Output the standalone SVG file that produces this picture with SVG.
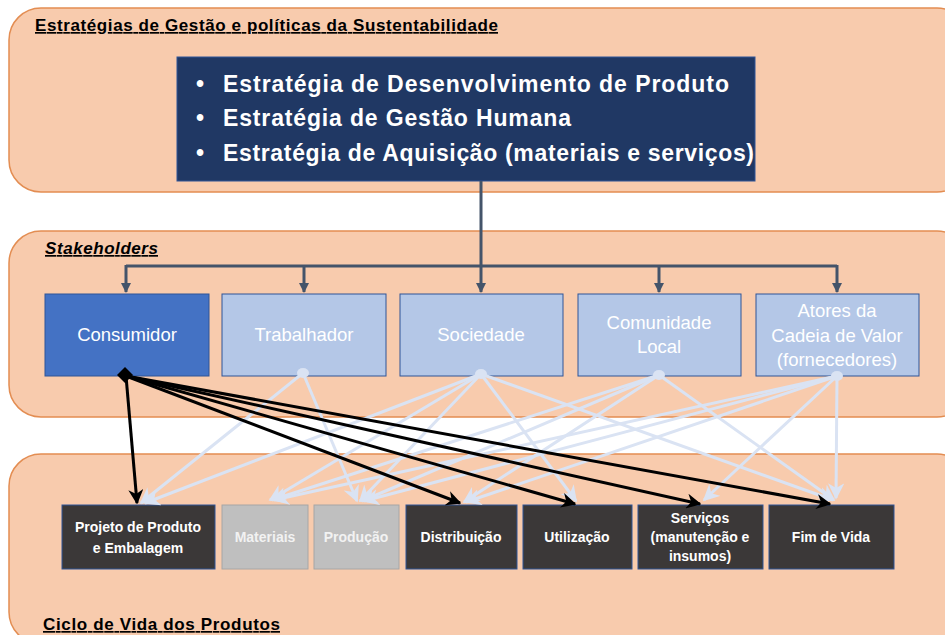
<svg xmlns="http://www.w3.org/2000/svg" width="945" height="635" viewBox="0 0 945 635">
  <defs>
    <style>
      .panel { fill: #f8cbad; stroke: #e38d52; stroke-width: 1.5; }
      .title { font-family: "Liberation Sans", Arial, sans-serif; font-weight: bold; font-size: 17px; fill: #000; text-decoration: underline; }
      .bullet { font-family: "Liberation Sans", Arial, sans-serif; font-weight: bold; font-size: 23px; fill: #fff; }
      .sh { stroke: #2f5597; stroke-width: 1; }
      .sh-main { fill: #4472c4; }
      .sh-other { fill: #b4c7e7; }
      .sh-text { font-family: "Liberation Sans", Arial, sans-serif; font-size: 18.5px; fill: #fff; text-anchor: middle; }
      .stage-dark { fill: #3b3838; stroke: #2f5597; stroke-width: 1; }
      .stage-grey { fill: #bfbfbf; stroke: #a6a6a6; stroke-width: 1; }
      .stage-text { font-family: "Liberation Sans", Arial, sans-serif; font-weight: bold; font-size: 14px; fill: #fff; text-anchor: middle; }
      .stage-text-grey { fill: #f2f2f2; }
      .tree { fill: none; stroke: #44546a; stroke-width: 3; }
      .light { fill: none; stroke: #dae3f3; stroke-width: 3; marker-end: url(#arrLight); }
      .dark { fill: none; stroke: #000; stroke-width: 3; marker-end: url(#arrDark); }
    </style>
    <marker id="arrDark" viewBox="0 0 10 10" refX="9" refY="5" markerWidth="5" markerHeight="5" orient="auto" markerUnits="strokeWidth">
      <path d="M0,0 L10,5 L0,10 L3,5 z" fill="#000"/>
    </marker>
    <marker id="arrLight" viewBox="0 0 10 10" refX="9" refY="5" markerWidth="5.5" markerHeight="5.5" orient="auto" markerUnits="strokeWidth">
      <path d="M0,0 L10,5 L0,10 L3,5 z" fill="#dae3f3"/>
    </marker>
    <marker id="arrTree" viewBox="0 0 10 10" refX="9" refY="5" markerWidth="3.5" markerHeight="3.5" orient="auto" markerUnits="strokeWidth">
      <path d="M0,0 L10,5 L0,10 z" fill="#44546a"/>
    </marker>
  </defs>

  <!-- background panels -->
  <rect class="panel" x="9" y="8" width="960" height="184" rx="32"/>
  <rect class="panel" x="9" y="231" width="960" height="186" rx="32"/>
  <rect class="panel" x="9" y="454" width="960" height="190" rx="32"/>

  <text class="title" x="35" y="31" textLength="463">Estratégias de Gestão e políticas da Sustentabilidade</text>
  <text class="title" x="45" y="254" font-style="italic" textLength="113">Stakeholders</text>
  <text class="title" x="43" y="630" textLength="237">Ciclo de Vida dos Produtos</text>

  <!-- strategy box -->
  <g id="strategies">
    <rect x="177" y="57" width="578" height="124" fill="#203864" stroke="#2f5597" stroke-width="1"/>
    <text class="bullet" x="196" y="92">•</text>
    <text class="bullet" x="223" y="92" textLength="506">Estratégia de Desenvolvimento de Produto</text>
    <text class="bullet" x="196" y="126">•</text>
    <text class="bullet" x="223" y="126" textLength="348">Estratégia de Gestão Humana</text>
    <text class="bullet" x="196" y="161">•</text>
    <text class="bullet" x="223" y="161" textLength="531">Estratégia de Aquisição (materiais e serviços)</text>
  </g>

  <!-- stakeholders -->
  <g id="consumidor">
    <rect class="sh sh-main" x="45" y="294" width="164" height="82"/>
    <text class="sh-text" x="127" y="341">Consumidor</text>
  </g>
  <g id="trabalhador">
    <rect class="sh sh-other" x="222" y="294" width="164" height="82"/>
    <text class="sh-text" x="304" y="341">Trabalhador</text>
  </g>
  <g id="sociedade">
    <rect class="sh sh-other" x="400" y="294" width="163" height="82"/>
    <text class="sh-text" x="481" y="341">Sociedade</text>
  </g>
  <g id="comunidade">
    <rect class="sh sh-other" x="578" y="294" width="163" height="82"/>
    <text class="sh-text" x="659" y="329">Comunidade</text>
    <text class="sh-text" x="659" y="353">Local</text>
  </g>
  <g id="atores">
    <rect class="sh sh-other" x="756" y="294" width="163" height="82"/>
    <text class="sh-text" x="837" y="317">Atores da</text>
    <text class="sh-text" x="837" y="342">Cadeia de Valor</text>
    <text class="sh-text" x="837" y="366">(fornecedores)</text>
  </g>

  <!-- life-cycle stages -->
  <g id="projeto">
    <rect class="stage-dark" x="62" y="505" width="153" height="64"/>
    <text class="stage-text" x="138" y="532">Projeto de Produto</text>
    <text class="stage-text" x="138" y="553">e Embalagem</text>
  </g>
  <g id="materiais">
    <rect class="stage-grey" x="222" y="505" width="86" height="64"/>
    <text class="stage-text stage-text-grey" x="265" y="542">Materiais</text>
  </g>
  <g id="producao">
    <rect class="stage-grey" x="314" y="505" width="85" height="64"/>
    <text class="stage-text stage-text-grey" x="356" y="542">Produção</text>
  </g>
  <g id="distribuicao">
    <rect class="stage-dark" x="406" y="505" width="111" height="64"/>
    <text class="stage-text" x="461" y="542">Distribuição</text>
  </g>
  <g id="utilizacao">
    <rect class="stage-dark" x="523" y="505" width="109" height="64"/>
    <text class="stage-text" x="577" y="542">Utilização</text>
  </g>
  <g id="servicos">
    <rect class="stage-dark" x="638" y="505" width="125" height="64"/>
    <text class="stage-text" x="700" y="523">Serviços</text>
    <text class="stage-text" x="700" y="542">(manutenção e</text>
    <text class="stage-text" x="700" y="561">insumos)</text>
  </g>
  <g id="fim-de-vida">
    <rect class="stage-dark" x="769" y="505" width="125" height="64"/>
    <text class="stage-text" x="831" y="542">Fim de Vida</text>
  </g>

  <!-- connectors -->
  <g id="connectors">
    <!-- strategy tree to stakeholders -->
    <path class="tree" d="M481,181 V266 M126,266 H837"/>
    <path class="tree" marker-end="url(#arrTree)" d="M126,265 V292"/>
    <path class="tree" marker-end="url(#arrTree)" d="M304,265 V292"/>
    <path class="tree" marker-end="url(#arrTree)" d="M481,265 V292"/>
    <path class="tree" marker-end="url(#arrTree)" d="M659,265 V292"/>
    <path class="tree" marker-end="url(#arrTree)" d="M837,265 V292"/>

    <!-- secondary stakeholder influences -->
    <path class="light" d="M303,373 L141,503"/>
    <path class="light" d="M303,373 L357,501"/>
    <path class="light" d="M481,374 L145,503"/>
    <path class="light" d="M481,374 L270,500"/>
    <path class="light" d="M481,374 L360,501"/>
    <path class="light" d="M481,374 L576,501"/>
    <path class="light" d="M481,374 L833,500"/>
    <path class="light" d="M659,375 L272,500"/>
    <path class="light" d="M659,375 L362,501"/>
    <path class="light" d="M659,375 L464,502"/>
    <path class="light" d="M659,375 L834,500"/>
    <path class="light" d="M837,376 L274,500"/>
    <path class="light" d="M837,376 L364,501"/>
    <path class="light" d="M837,376 L466,502"/>
    <path class="light" d="M837,376 L704,500"/>
    <path class="light" d="M837,376 L836,498"/>
    <g fill="#dae3f3">
      <ellipse cx="303" cy="373" rx="6" ry="5"/>
      <ellipse cx="481" cy="374" rx="6" ry="5"/>
      <ellipse cx="659" cy="375" rx="6" ry="5"/>
      <ellipse cx="837" cy="376" rx="6" ry="5"/>
    </g>

    <!-- consumer links -->
    <path class="dark" d="M126,376 L137,503"/>
    <path class="dark" d="M126,376 L460,503"/>
    <path class="dark" d="M126,376 L575,504"/>
    <path class="dark" d="M126,376 L700,504"/>
    <path class="dark" d="M126,376 L830,504"/>
    <polygon points="125,367 133,375 125,383 117,375" fill="#000"/>
  </g>
</svg>
